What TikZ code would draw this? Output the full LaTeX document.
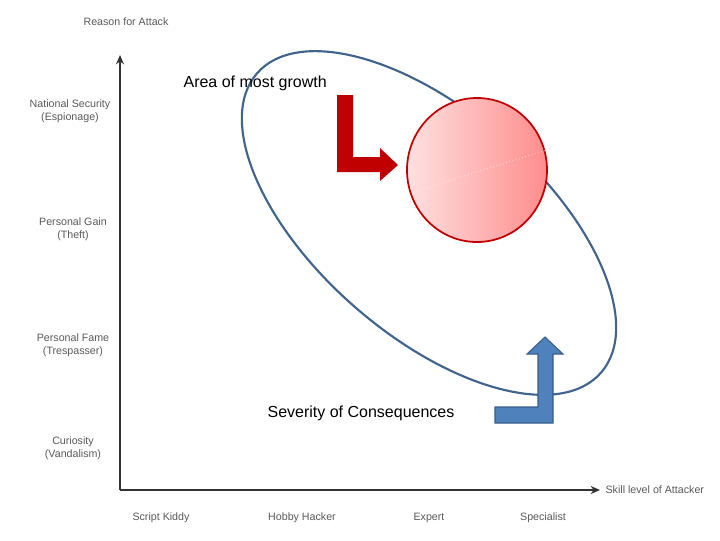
\documentclass[tikz,border=0pt]{standalone}
\usepackage{fontspec}
\usetikzlibrary{arrows.meta}
\setmainfont{Liberation Sans}
\definecolor{bigell}{RGB}{65,100,140}
\definecolor{darkred}{RGB}{192,0,0}
\definecolor{bluefill}{RGB}{79,129,189}
\definecolor{blueline}{RGB}{56,93,138}
\tikzset{
 lab/.style={text=black!65, font=\fontsize{8}{9.5}\selectfont, align=center, inner sep=1pt},
 big/.style={font=\fontsize{12}{14}\selectfont, inner sep=1pt},
 ax/.style={line width=1.3pt, black!80, -{Stealth[length=7pt,width=6pt]}}
}
\begin{document}
\begin{tikzpicture}[x=0.75pt,y=-0.75pt]
\useasboundingbox (0,0) rectangle (720,540);
\coordinate (o) at (120,490);
\coordinate (ytop) at (120,55);
\coordinate (xend) at (600,490);
\draw[ax] (o) -- (ytop);
\draw[ax] (o) -- (xend);
\node[lab,anchor=west] (yt) at (82,22) {Reason for Attack};
\node[lab,anchor=west] (xt) at (604,490) {Skill level of Attacker};
\node[lab] (y1) at (70,111) {National Security\\(Espionage)};
\node[lab] (y2) at (73,229) {Personal Gain\\(Theft)};
\node[lab] (y3) at (73,345) {Personal Fame\\(Trespasser)};
\node[lab] (y4) at (73,448) {Curiosity\\(Vandalism)};
\node[lab] (x1) at (161,518) {Script Kiddy};
\node[lab] (x2) at (302,518) {Hobby Hacker};
\node[lab] (x3) at (429,518) {Expert};
\node[lab] (x4) at (543,518) {Specialist};
\draw[line width=1.6pt, color=bigell] (429,223) ellipse[x radius=228, y radius=112, rotate=-41];
\shade[left color=red!12, right color=red!45, draw=darkred, line width=1.3pt] (477,170) ellipse[x radius=70, y radius=72];
\draw[white, dotted, line width=0.5pt] (414,192) -- (547,150);
\fill[darkred] (337,95) -- (353,95) -- (353,157) -- (380,157) -- (380,148) -- (398,165) -- (380,181) -- (380,172) -- (337,172) -- cycle;
\draw[fill=bluefill, draw=blueline, line width=0.8pt] (495,407) -- (538,407) -- (538,354) -- (527,354) -- (545,337) -- (563,354) -- (553,354) -- (553,423) -- (495,423) -- cycle;
\node[big,anchor=west] (t1) at (182,83) {Area of most growth};
\node[big,anchor=west] (t2) at (266,413) {Severity of Consequences};
\end{tikzpicture}
\end{document}
